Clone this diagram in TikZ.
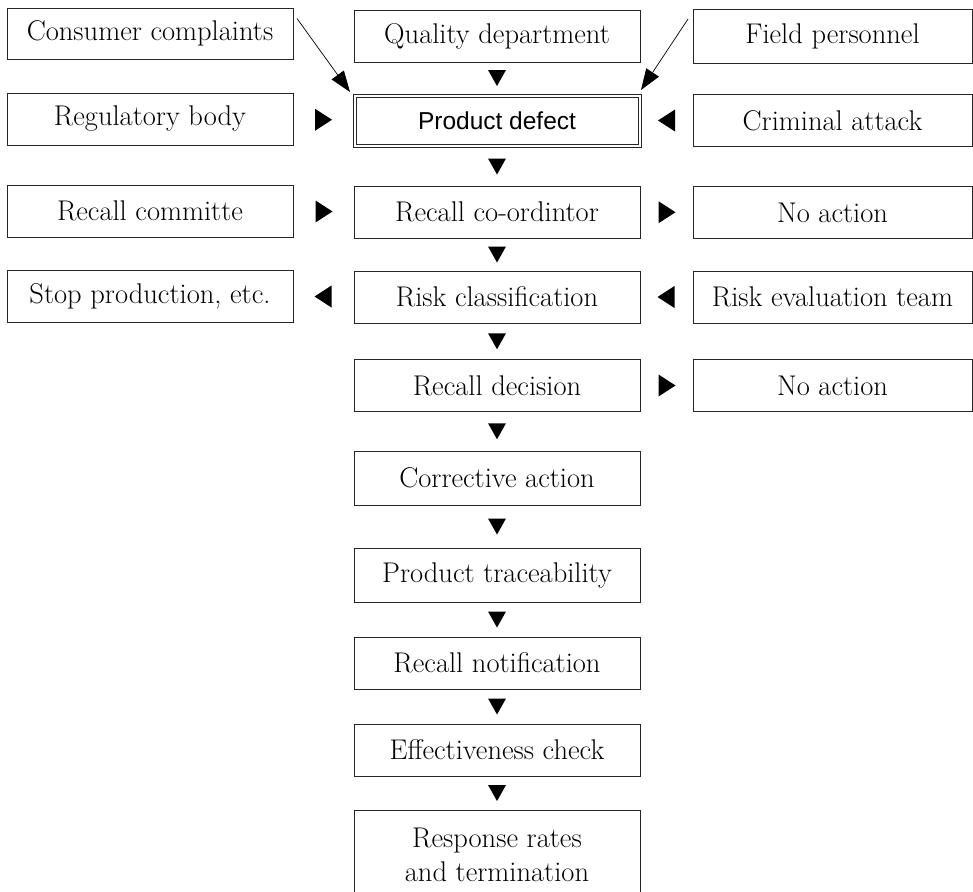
\documentclass[tikz,border=0pt]{standalone}
\usepackage{fontspec}
\newfontfamily\pdsans{Liberation Sans}
\usetikzlibrary{arrows.meta,calc}
\newcommand\tridn[2]{\fill[black] ($(#1.south)!0.5!(#2.north)$) ++(-9,-8) -- ++(18,0) -- ++(-9,16) -- cycle;}
\newcommand\trirt[2]{\fill[black] ($(#1.east)!0.5!(#2.west)$) ++(-8,-11) -- ++(0,22) -- ++(17,-11) -- cycle;}
\newcommand\trilt[2]{\fill[black] ($(#1.west)!0.5!(#2.east)$) ++(8,-11) -- ++(0,22) -- ++(-17,-11) -- cycle;}
\begin{document}
\begin{tikzpicture}[x=1pt,y=-1pt,
  box/.style={draw=black!85, line width=0.9pt, minimum width=286pt, minimum height=52pt,
    inner sep=0pt, outer sep=0pt, align=center, font=\fontsize{28.5}{34}\selectfont, text=black},
  rbox/.style={box, minimum width=279pt},
  dbox/.style={box, minimum width=288pt, minimum height=53pt,
    font=\pdsans\fontsize{24.5}{30}\selectfont},
  diag/.style={draw=black, line width=0.7pt, -{Triangle[length=21pt,width=15pt]}}
]
\useasboundingbox (0,0) rectangle (973,891);
\clip (0,0) rectangle (973,891);

% row 1
\node[box, minimum height=51pt] (cc) at (150,33.5) {Consumer complaints};
\node[box] (qd) at (497,36) {Quality department};
\node[rbox, minimum height=54pt] (fp) at (832.5,36) {Field personnel};
% row 2
\node[box] (rb) at (150,119) {Regulatory body};
\node[dbox] (pd) at (497,120.5) {Product defect};
\draw[black!85, line width=0.9pt] ($(pd.north west)+(3,3)$) rectangle ($(pd.south east)+(-3,-3)$);
\node[rbox] (ca) at (832.5,120.5) {Criminal attack};
% row 3
\node[box] (rc) at (150,211) {Recall committe};
\node[box] (co) at (497,212) {Recall co-ordintor};
\node[rbox] (na1) at (832.5,212.5) {No action};
% row 4
\node[box] (sp) at (150,296) {Stop production, etc.};
\node[box] (rk) at (497,297) {Risk classification};
\node[rbox] (re) at (832.5,297) {Risk evaluation team};
% row 5
\node[box] (rd) at (497,385.5) {Recall decision};
\node[rbox] (na2) at (832.5,385.5) {No action};
% lower column
\node[box, minimum height=54pt] (cr) at (497,478) {Corrective action};
\node[box, minimum height=54pt] (pt) at (497,575) {Product traceability};
\node[box] (rn) at (497,663) {Recall notification};
\node[box] (ec) at (497,750) {Effectiveness check};
\node[box, minimum height=90pt] (rr) at (497,855) {Response rates\\and termination};

% diagonal connectors
\draw[diag] ($(cc.east)+(4,-15)$) -- ($(pd.north west)+(-3,-2)$);
\draw[diag] ($(fp.west)+(-5,-17)$) -- ($(pd.north east)+(0,-4)$);

% triangle connectors
\tridn{qd}{pd}
\trirt{rb}{pd}
\trilt{ca}{pd}
\tridn{pd}{co}
\trirt{rc}{co}
\trirt{co}{na1}
\tridn{co}{rk}
\trilt{rk}{sp}
\trilt{re}{rk}
\tridn{rk}{rd}
\trirt{rd}{na2}
\tridn{rd}{cr}
\tridn{cr}{pt}
\tridn{pt}{rn}
\tridn{rn}{ec}
\tridn{ec}{rr}
\end{tikzpicture}
\end{document}
